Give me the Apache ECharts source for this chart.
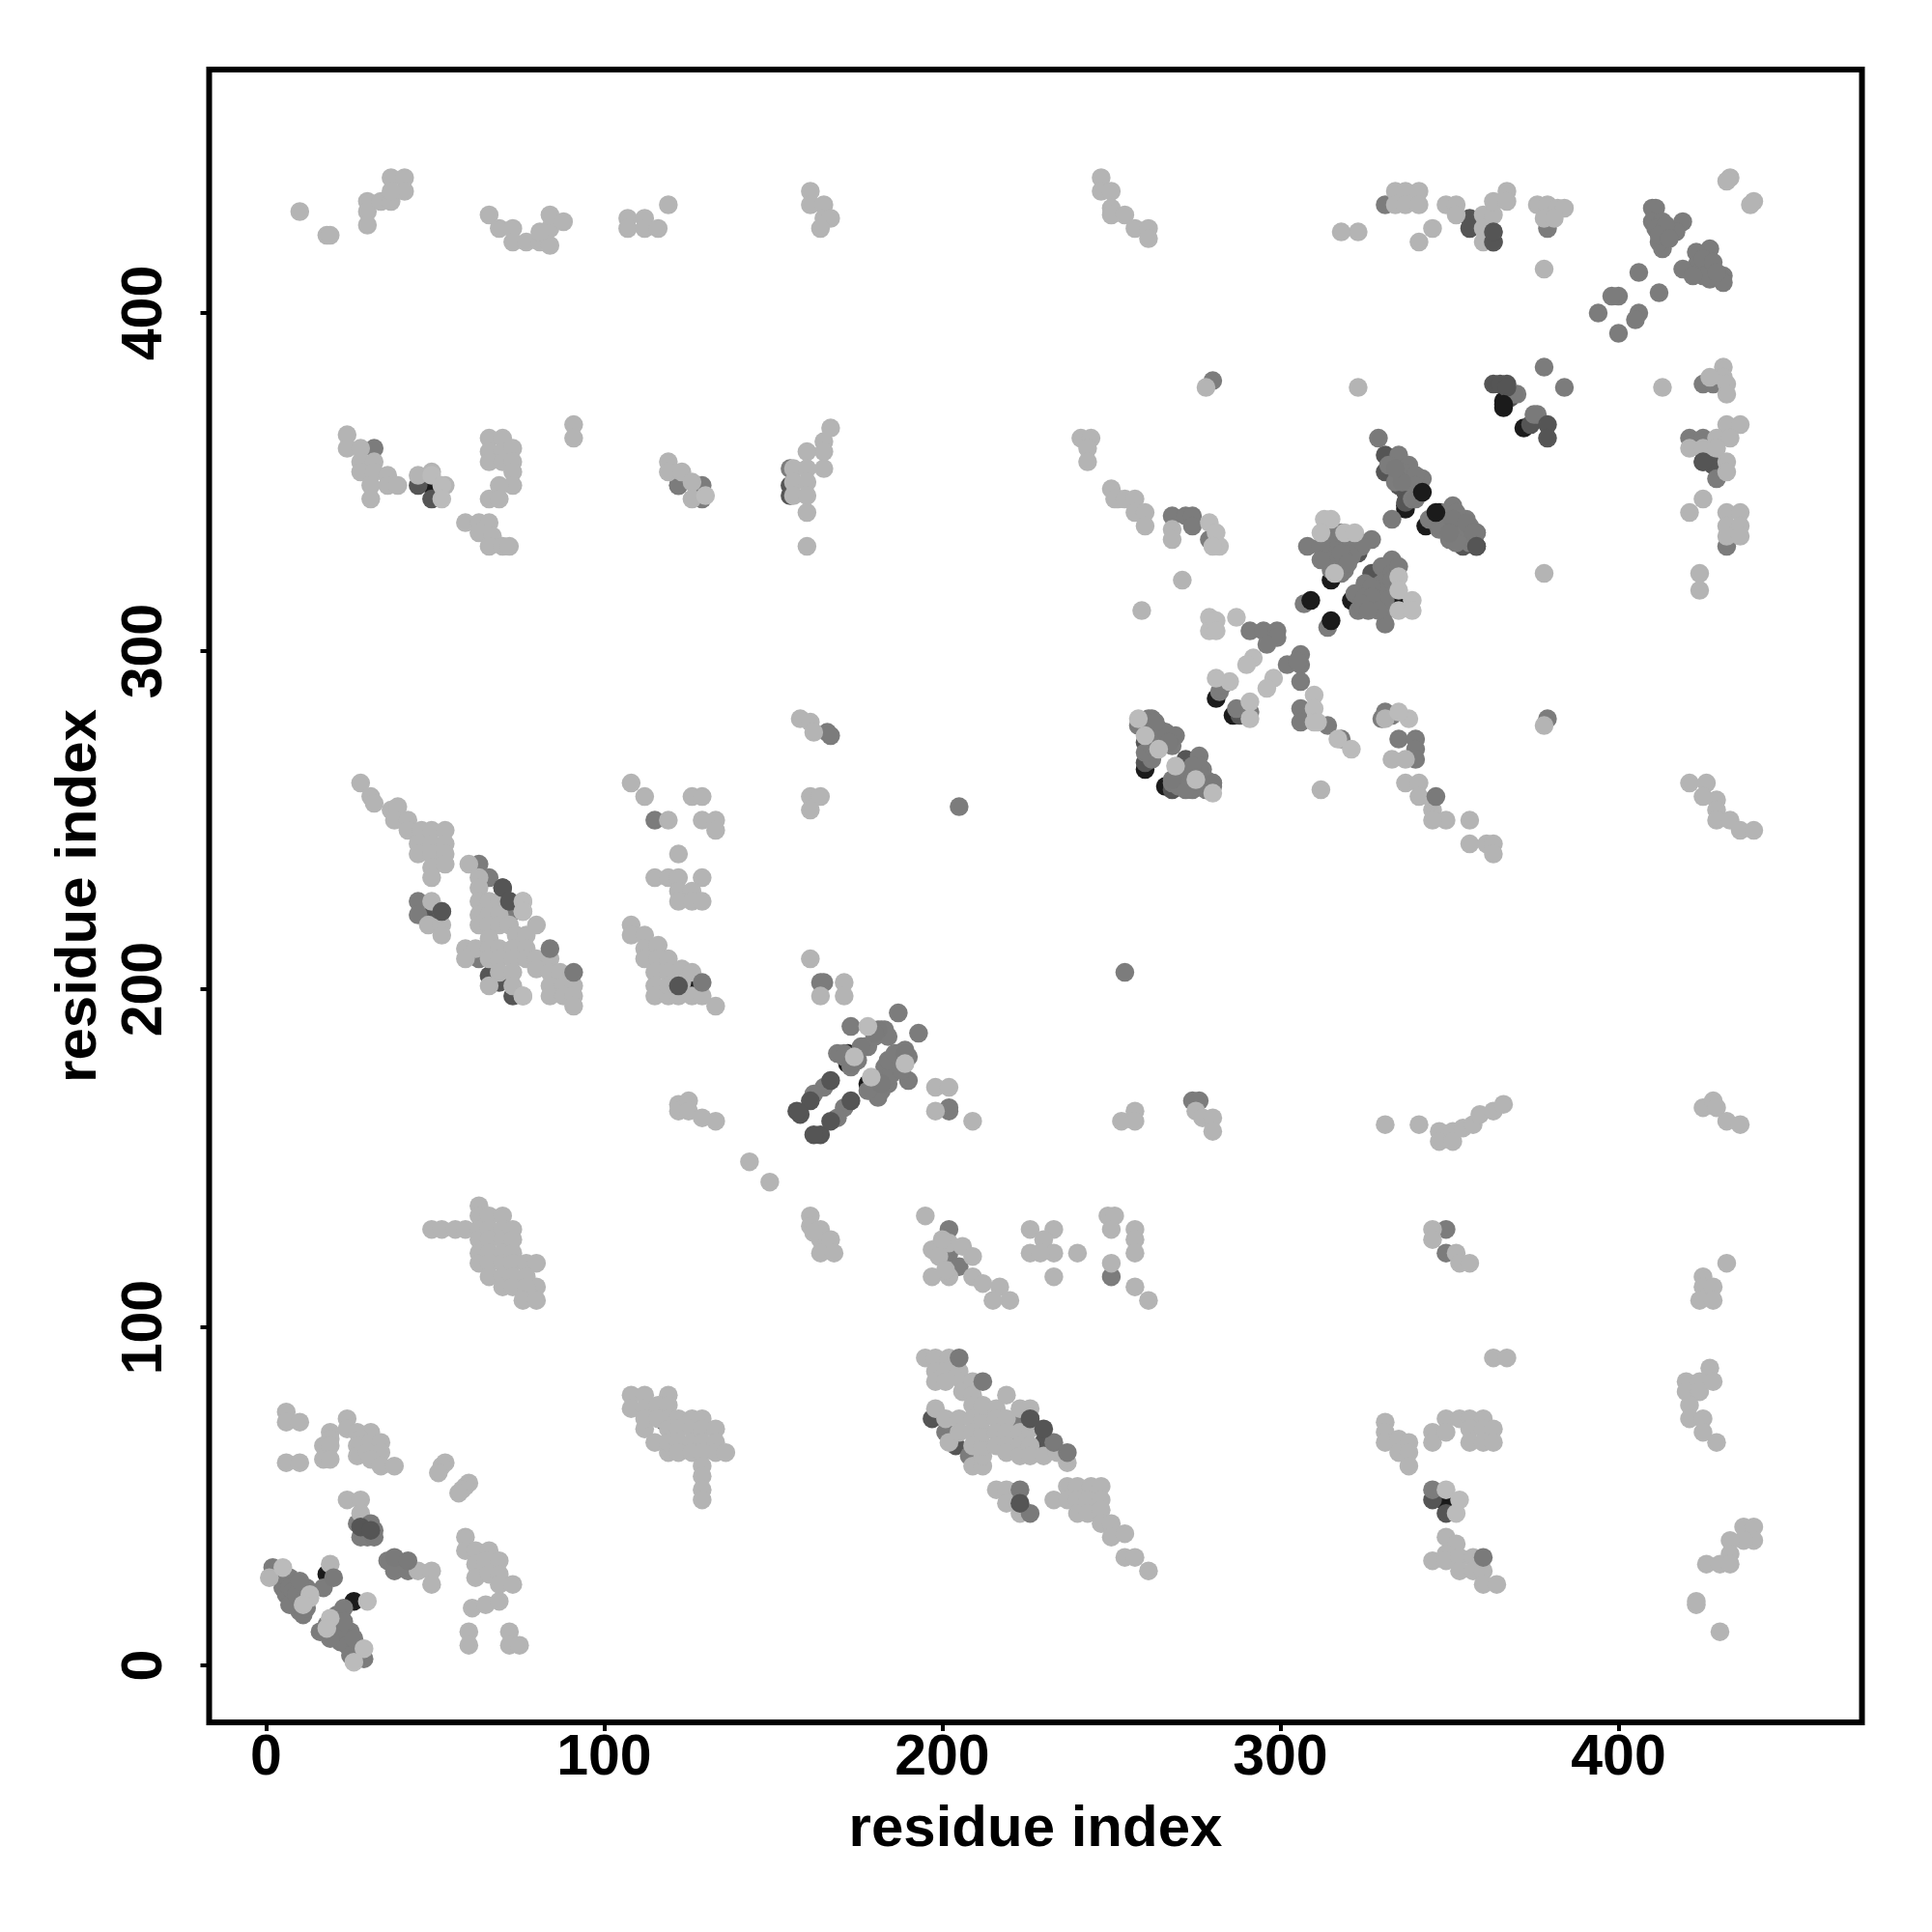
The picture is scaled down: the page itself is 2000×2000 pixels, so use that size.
<!DOCTYPE html>
<html><head><meta charset="utf-8">
<style>html,body{margin:0;padding:0;background:#fff}#c{width:2000px;height:2000px}</style>
<script src="https://cdn.jsdelivr.net/npm/echarts@6/dist/echarts.min.js"></script></head>
<body><div id="c"></div>
<script>
const tickValues = [0, 100, 200, 300, 400];
const axisName = 'residue index';
const blackLow = [[18,27],[26,19],[25,5],[172,178],[172,181],[178,172],[180,171],[341,347],[337,343],[347,341],[343,337],[337,342],[260,265],[266,260],[281,286],[286,281],[321,315],[314,334],[315,321],[328,318],[334,314],[358,331],[125,202],[72,118],[118,72],[366,372],[366,374],[372,366],[49,349],[349,48]];
const darkLow = [[331,358],[331,353],[335,349],[337,347],[337,344],[346,338],[354,331],[356,428],[356,425],[122,205],[122,202],[69,202],[73,198],[66,204],[197,73],[204,65],[209,62],[226,73],[222,73],[230,66],[155,349],[155,346],[45,349],[49,345],[122,349],[345,49],[349,45],[260,267],[268,259],[272,268],[272,262],[264,272],[260,273],[288,281],[323,329],[327,323],[368,375],[367,379],[363,379],[374,367],[425,356],[428,355],[72,226],[70,230],[49,222]];
const midLow = [[2,29],[3,27],[5,25],[7,26],[9,24],[10,22],[5,23],[6,21],[8,20],[9,18],[10,16],[11,15],[17,23],[23,17],[21,15],[16,10],[18,12],[21,12],[25,10],[22,7],[26,6],[24,8],[29,2],[27,42],[28,38],[30,38],[32,40],[36,31],[38,28],[42,28],[45,226],[45,222],[52,223],[63,209],[72,222],[66,233],[63,237],[115,250],[201,69],[208,62],[222,69],[222,73],[155,354],[32,360],[122,349],[129,349],[129,345],[331,432],[379,425],[363,424],[363,421],[421,363],[425,363],[432,331],[261,280],[262,277],[266,276],[262,268],[268,261],[276,269],[277,265],[274,259],[280,261],[282,288],[283,290],[287,283],[291,282],[306,283],[306,279],[314,278],[318,274],[268,340],[272,340],[274,340],[274,337],[279,333],[291,306],[295,306],[299,306],[299,304],[296,302],[306,299],[302,296],[306,296],[306,291],[305,297],[308,331],[324,332],[318,332],[315,331],[315,327],[319,327],[322,330],[319,324],[318,323],[327,333],[333,327],[330,325],[325,320],[322,317],[326,315],[331,321],[331,317],[331,312],[331,308],[323,312],[307,314],[314,307],[335,358],[338,355],[335,352],[342,351],[338,350],[351,343],[350,337],[355,339],[358,335],[354,335],[344,339],[331,282],[333,281],[330,280],[335,274],[340,274],[340,271],[340,268],[173,189],[182,188],[187,193],[193,187],[171,181],[169,181],[177,183],[165,171],[162,169],[171,165],[169,162],[183,177],[189,182],[187,181],[190,173],[182,170],[180,172],[165,202],[164,202],[202,165],[202,164],[166,276],[167,275],[202,129],[202,122],[205,118],[250,115],[349,129],[349,122],[205,254],[254,205],[280,380],[379,280],[410,431],[411,431],[410,427],[413,427],[419,427],[413,423],[417,424],[413,419],[412,421],[406,412],[412,406],[400,405],[398,405],[394,400],[406,400],[405,398],[400,394],[427,419],[423,418],[423,414],[419,413],[427,413],[424,412],[427,410],[431,411],[431,409],[378,384],[384,378],[370,376],[376,370],[425,379],[428,379],[429,351],[274,167],[276,167],[345,52]];
const midFill = [[312,331],[315,335],[318,335],[321,332],[324,331],[321,328],[318,329],[315,324],[312,327],[320,326],[333,323],[330,320],[327,319],[325,316],[328,314],[331,315],[333,321],[327,316],[324,314],[329,312],[326,312],[335,325],[332,355],[334,350],[336,353],[340,352],[340,349],[339,345],[349,341],[348,338],[352,341],[352,337],[353,334],[356,337],[350,333],[347,336],[356,332],[352,332],[260,278],[263,276],[262,274],[266,274],[268,272],[264,277],[258,278],[260,270],[262,272],[272,264],[274,262],[276,266],[278,262],[276,260],[270,260],[272,259],[278,259],[274,266],[280,260],[171,180],[173,177],[175,179],[178,183],[180,186],[183,188],[184,186],[179,170],[181,168],[184,172],[185,175],[187,178],[188,176],[190,180],[184,179],[186,181],[178,170],[411,425],[414,426],[412,423],[415,422],[425,416],[425,411],[428,415],[429,412],[422,411],[4,27],[7,23],[8,22],[7,18],[9,21],[11,19],[12,17],[12,23],[10,25],[20,10],[22,10],[24,6],[19,8],[25,3],[27,3],[23,13],[26,8]];
const lightPts = [[1,26],[6,75],[6,72],[10,72],[6,60],[10,60],[19,69],[19,67],[17,65],[19,65],[17,61],[19,61],[24,73],[24,70],[27,69],[31,69],[28,67],[27,65],[31,66],[34,66],[27,62],[30,63],[34,63],[31,61],[34,59],[38,59],[53,60],[52,59],[51,57],[60,54],[59,53],[58,52],[57,51],[24,49],[28,49],[28,45],[45,28],[49,28],[49,24],[59,38],[59,34],[62,34],[66,34],[62,30],[65,31],[69,31],[62,26],[66,27],[69,27],[69,24],[73,24],[61,17],[65,18],[69,19],[60,10],[60,6],[72,10],[72,6],[75,6],[19,30],
[195,91],[198,91],[202,91],[198,87],[201,87],[198,84],[201,84],[205,87],[206,84],[206,81],[209,84],[209,80],[209,77],[219,80],[198,76],[201,73],[202,66],[205,73],[205,69],[209,73],[209,69],[209,65],[209,59],[212,59],[212,62],[212,65],[212,69],[212,73],[212,77],[216,76],[216,73],[216,69],[216,65],[219,73],[219,69],[219,65],[219,63],[223,76],[226,76],[223,69],[223,65],[223,62],[226,70],[226,65],[226,62],[230,62],[234,63],[237,60],[216,52],[219,52],[219,48],[223,45],[233,49],[237,53],[240,53],[244,53],[247,53],[237,49],[240,49],[243,49],[247,49],[240,45],[243,45],[247,46],[247,42],[250,42],[250,38],[254,39],[254,32],[257,32],[261,28],
[363,91],[367,91],[331,72],[331,69],[331,66],[335,67],[335,63],[338,66],[338,63],[338,59],[345,69],[345,66],[349,73],[349,69],[353,73],[356,73],[360,73],[356,70],[360,70],[363,70],[356,66],[360,66],[363,66],[349,38],[352,36],[349,33],[345,31],[349,31],[353,32],[353,28],[357,32],[357,28],[360,28],[360,24],[364,24],[427,88],[420,84],[420,81],[424,84],[424,81],[428,84],[421,77],[421,73],[425,73],[425,69],[429,66],[437,41],[440,41],[440,37],[437,37],[433,37],[433,33],[426,30],[430,30],[433,30],[423,19],[423,18],[430,10],
[49,129],[52,129],[56,129],[59,129],[63,136],[63,133],[63,129],[63,126],[63,122],[63,119],[66,133],[70,133],[66,129],[66,126],[66,122],[66,119],[66,115],[70,129],[70,126],[70,122],[70,119],[70,115],[70,112],[73,129],[73,126],[73,122],[73,119],[73,115],[73,112],[77,119],[80,119],[77,115],[80,112],[77,112],[76,108],[80,108],
[108,80],[112,80],[119,80],[108,76],[112,76],[116,77],[119,77],[112,70],[112,73],[116,73],[119,73],[122,73],[126,73],[129,73],[115,66],[119,70],[122,70],[126,70],[129,70],[133,70],[119,63],[119,66],[122,66],[126,66],[129,66],[133,66],[122,63],[126,63],[129,63],[133,63],[136,63],[129,59],[129,56],[129,52],[129,49],
[161,133],[161,130],[164,129],[164,126],[162,128],[167,126],[164,122],[168,122],[195,133],[197,123],[202,125],[197,115],[202,115],[206,124],[209,121],[209,115],[212,113],[217,112],[220,108],[215,108],[200,126],[199,121],[201,117],[226,129],[233,129],[226,122],[230,126],[233,122],[229,122],[233,115],[240,122],[249,133],[251,133],[250,129],[257,129],[257,126],[257,122],[250,119],[257,112],[261,108],[345,129],[345,126],[352,122],[353,119],[356,119],[425,115],[425,112],[428,112],[424,108],[428,108],[432,119],
[28,261],[31,257],[32,255],[37,253],[39,254],[38,250],[42,250],[42,247],[46,247],[49,247],[53,247],[45,243],[49,243],[53,243],[45,240],[49,240],[53,240],[49,236],[53,237],[49,233],[49,226],[48,219],[52,219],[52,216],[60,237],[63,233],[63,230],[63,226],[63,222],[66,226],[66,222],[69,226],[69,222],[63,219],[66,219],[69,219],[72,219],[80,219],[66,215],[74,216],[77,216],[59,212],[62,212],[59,209],[66,212],[66,209],[69,212],[69,209],[73,212],[73,209],[77,212],[77,209],[80,209],[84,209],[80,206],[69,205],[73,205],[66,201],[73,201],[76,198],[76,223],[76,226],[84,205],[87,205],[84,201],[88,201],[91,201],[84,198],[88,198],[91,198],[91,195],
[108,261],[112,257],[126,257],[129,257],[119,250],[129,250],[133,250],[133,247],[122,240],[115,233],[119,233],[122,233],[129,233],[122,229],[126,229],[122,226],[126,226],[129,226],[108,219],[108,216],[112,216],[112,212],[116,213],[112,209],[116,209],[119,209],[115,205],[115,201],[115,198],[119,205],[119,198],[123,206],[126,205],[123,202],[119,201],[122,198],[126,198],[129,198],[133,195],
[24,364],[24,360],[28,360],[28,356],[32,356],[28,353],[32,353],[31,349],[36,352],[36,349],[39,349],[31,345],[45,352],[49,353],[53,349],[66,363],[70,363],[66,359],[70,359],[73,360],[66,356],[70,356],[73,356],[73,353],[73,349],[69,349],[66,345],[69,345],[59,338],[63,338],[66,338],[63,335],[67,334],[66,331],[70,331],[72,331],[91,367],[91,363],[119,356],[119,353],[123,353],[126,350],[126,345],[167,366],[165,362],[165,359],[160,359],[156,354],[165,354],[160,354],[156,350],[160,350],[156,346],[160,346],[160,341],[160,331],
[241,363],[244,363],[243,360],[243,356],[250,348],[252,345],[251,345],[254,345],[257,345],[257,341],[260,341],[260,337],[268,336],[268,333],[259,312],[271,321],[312,259],
[334,436],[337,436],[341,436],[334,432],[337,432],[341,432],[349,432],[352,432],[352,429],[345,425],[341,421],[323,424],[318,424],[360,429],[363,429],[360,425],[360,421],[363,421],[363,433],[367,436],[367,433],[376,432],[379,432],[382,431],[384,431],[378,428],[381,428],[378,413],[433,440],[432,439],[440,433],[439,432],[323,378],[413,378],[432,367],[436,367],[421,360],[425,360],[429,363],[433,363],[429,360],[432,356],[432,353],[425,345],[421,341],[432,341],[436,341],[432,337],[436,337],[432,334],[436,334],[424,323],[424,318],[378,323],[278,378],[378,278],[431,384],[431,381],[432,379],[432,376],[427,381],
[331,280],[333,268],[337,268],[337,261],[341,261],[341,257],[345,253],[349,250],[345,256],[345,250],[356,250],[356,243],[361,243],[363,243],[363,240],[421,261],[426,261],[425,257],[429,256],[429,253],[429,250],[433,250],[436,247],[440,247],
[161,209],[171,202],[164,198],[171,198],[198,171],[202,171],[198,164],[209,161],[143,149],[149,143],[122,166],[122,164],[125,167],[125,164],[129,162],[133,161],[253,161],[257,164],[257,161],[275,164],[277,162],[280,162],[280,158],[331,160],[341,160],[347,158],[347,155],[351,158],[351,155],[354,159],[357,160],[359,163],[363,164],[366,166],[425,165],[428,167],[429,165],[432,161],[436,160],
[158,280],[161,279],[162,276],[161,257],[164,257],[161,253],
[10,430],[18,423],[19,423],[30,433],[30,430],[30,426],[34,433],[37,433],[37,440],[41,440],[41,436],[37,436],[66,429],[69,425],[73,425],[73,421],[77,421],[81,421],[84,420],[84,425],[84,429],[81,424],[88,427],[107,428],[107,425],[112,428],[112,425],[116,425],[119,432],[161,436],[161,432],[165,432],[165,428],[167,428],[164,425],[247,440],[247,436],[250,436],[250,431],[250,429],[254,429],[257,425],[261,425],[261,422]];
const midHigh = [[205,91],[212,84],[233,66],[237,63],[223,52],[226,45],[84,212],[91,205],[129,202],[20,26],[31,42],[38,32],[42,31],[32,38],[262,280],[266,276],[269,275],[267,273],[268,262],[280,261],[360,32],[346,257],[263,279],[181,188],[180,187],[182,172],[189,181],[176,183],[173,178],[336,350],[340,345],[351,339],[350,335],[355,338],[358,335],[375,370],[334,354],[357,335],[369,376],[329,363],[333,339]];
const darkHigh = [[230,70],[223,48],[226,73],[70,230],[72,226],[52,223],[122,201],[173,167],[167,173],[161,167],[164,157],[162,157],[167,161],[158,163],[157,164],[379,367],[379,363],[363,421],[363,424],[358,331],[365,379],[367,378],[425,356],[28,41],[31,40]];
const blackHigh = [[309,315],[315,309],[346,341],[342,347],[366,373]];
const paleTop = [[29,5],[26,1],[30,19],[13,21],[13,20],[11,18],[5,29],[19,14],[18,11],[76,226],[76,223],[76,198],[338,280],[335,282],[335,322],[335,318],[335,312],[339,315],[339,312],[292,298],[290,296],[298,292],[296,289],[285,291],[281,292],[291,285],[291,280],[269,266],[275,262],[280,258],[264,271],[260,275],[310,287],[310,283],[310,279],[311,279],[317,274],[321,271],[279,310],[279,306],[281,309],[287,310],[281,306],[319,335],[322,335],[313,339],[315,339],[312,335],[316,323],[130,346],[49,352],[52,349],[349,52],[353,49],[352,45],[52,345],[279,338],[281,335],[282,331],[280,331],[178,189],[174,180],[189,178],[179,174],[258,280]];
const layers = [blackLow, darkLow, midLow, midFill, lightPts, midHigh, darkHigh, blackHigh, paleTop];
const greys = ['#1b1b1b', '#555555', '#7c7c7c', '#7c7c7c', '#b4b4b4', '#7a7a7a', '#555555', '#1b1b1b', '#bbbbbb'];

const axisBase = {
  type: 'value', min: -16.8, max: 472, interval: 1000,
  splitLine: {show: false}, axisLine: {show: false, onZero: false},
  name: axisName, nameLocation: 'middle',
  nameTextStyle: {fontFamily: 'Liberation Sans', fontWeight: 'bold', fontSize: 60, color: '#000'},
  axisTick: {show: true, length: 9, customValues: tickValues, lineStyle: {color: '#000', width: 4}},
  axisLabel: {show: true, customValues: tickValues, fontFamily: 'Liberation Sans', fontWeight: 'bold', fontSize: 59, color: '#000', margin: 8}
};
const chart = echarts.init(document.getElementById('c'), null, {renderer: 'canvas'});
chart.setOption({
  animation: false, backgroundColor: '#fff',
  grid: {left: 216.5, top: 72, width: 1711, height: 1711, show: true, borderColor: '#000', borderWidth: 6, backgroundColor: 'transparent'},
  xAxis: Object.assign({}, axisBase, {nameGap: 81}),
  yAxis: Object.assign({}, axisBase, {nameGap: 104, axisLabel: Object.assign({}, axisBase.axisLabel, {rotate: 90, margin: 66, verticalAlign: 'middle', align: 'center'})}),
  series: layers.map((d, i) => ({type: 'scatter', data: d, symbol: 'circle', symbolSize: 19.5, silent: true, z: 2 + i, itemStyle: {color: greys[i], opacity: 1}}))
});
</script></body></html>
